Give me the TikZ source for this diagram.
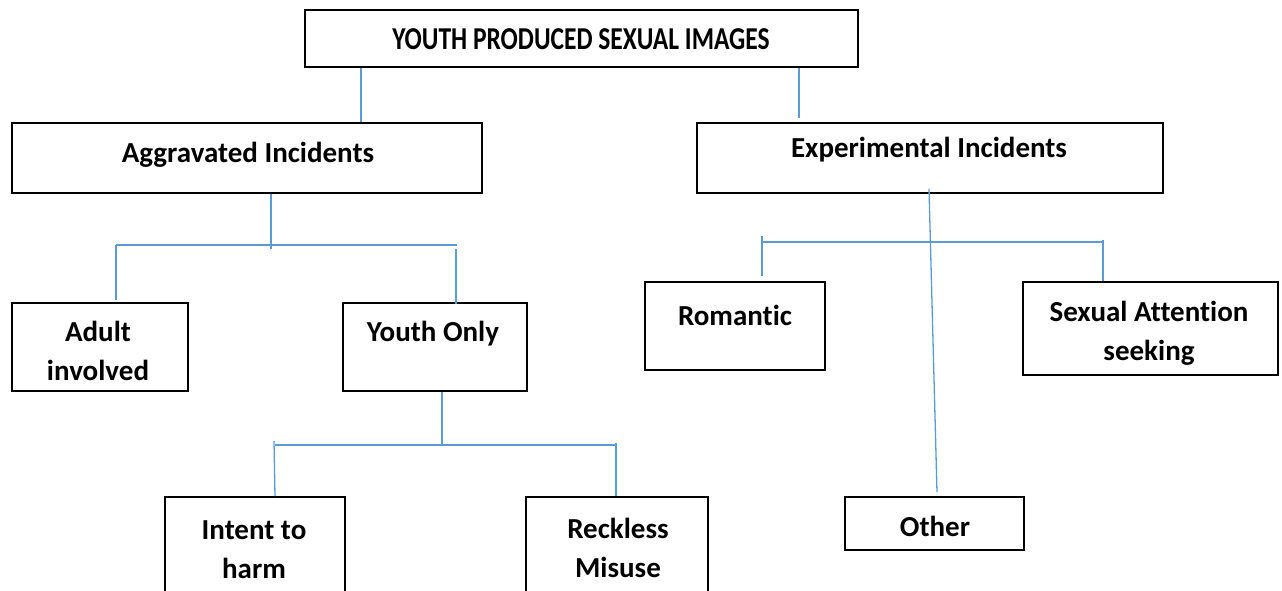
\documentclass[tikz,border=0pt]{standalone}
\usepackage{fontspec}
\usepackage{graphicx}
\setmainfont[Ligatures=NoCommon]{Carlito}
\usetikzlibrary{calc}
\definecolor{connblue}{HTML}{5B9BD5}
\tikzset{
  box/.style={draw=black, line width=1.6pt, rectangle, inner sep=0pt, fill=white},
  lbl/.style={font=\fontsize{29}{39}\selectfont\bfseries, align=center, inner sep=0pt, anchor=center},
  toplbl/.style={lbl, font=\fontsize{25.5}{39}\selectfont\bfseries},
  conn/.style={draw=connblue, line width=1.3pt}
}
\begin{document}
\begin{tikzpicture}[x=1pt,y=-1pt]
\useasboundingbox (0,0) rectangle (1282,590);
% boxes
\node[box, minimum width=553pt, minimum height=57pt] (top) at (581.5,38.5) {};
\node[box, minimum width=470pt, minimum height=70pt] (agg) at (247,158) {};
\node[box, minimum width=466pt, minimum height=70pt] (exp) at (930,158) {};
\node[box, minimum width=176pt, minimum height=88pt] (adult) at (100,347) {};
\node[box, minimum width=184pt, minimum height=88pt] (youth) at (435,347) {};
\node[box, minimum width=180pt, minimum height=88pt] (rom) at (735,326) {};
\node[box, minimum width=255pt, minimum height=93pt] (sex) at (1150.5,328.5) {};
\node[box, minimum width=180pt, minimum height=96pt] (intent) at (255,545) {};
\node[box, minimum width=182pt, minimum height=96pt] (reck) at (617,545) {};
\node[box, minimum width=179pt, minimum height=53pt] (other) at (934.5,523.5) {};
% labels
\node[toplbl] (topt) at (581,39) {\scalebox{1}[1.25]{YOUTH PRODUCED SEXUAL IMAGES}};
\node[lbl] (aggt) at (248,155) {Aggravated Incidents};
\node[lbl] (expt) at (929,150) {Experimental Incidents};
\node[lbl] (adultt) at (98,351) {Adult\\involved};
\node[lbl] (youtht) at (433,334) {Youth Only};
\node[lbl] (romt) at (735,315) {Romantic};
\node[lbl] (sext) at (1149,333) {Sexual Attention\\seeking};
\node[lbl] (intentt) at (254,550) {Intent to\\harm};
\node[lbl] (reckt) at (618,548) {Reckless\\Misuse};
\node[lbl] (othert) at (935,526) {Other};
% junction coordinates
\coordinate (x1) at (361,0);
\coordinate (x2) at (799,0);
\coordinate (ja) at (271,245);
\coordinate (jal) at (116,245);
\coordinate (jar) at (457,245);
\coordinate (jy) at (442,445);
\coordinate (jyl) at (275,445);
\coordinate (jyr) at (616,445);
\coordinate (jel) at (762,242);
\coordinate (jer) at (1103,242);
% connectors
\draw[conn] (top.south -| x1) -- (agg.north -| x1);
\draw[conn] (top.south -| x2) -- ($(exp.north -| x2)+(0,-4)$);
\draw[conn] (agg.south -| ja) -- ($(ja)+(0,4)$);
\draw[conn] (jal) -- (jar);
\draw[conn] (jal) -- ($(adult.north -| jal)+(0,-2)$);
\draw[conn] ($(jar)+(-1,4)$) -- ($(youth.north -| jar)+(-1,2)$);
\draw[conn] (youth.south -| jy) -- (jy);
\draw[conn] (jyl) -- (jyr);
\draw[conn] ($(jyl)+(-1,-4)$) -- (intent.north -| jyl);
\draw[conn] ($(jyr)+(0,-2)$) -- (reck.north -| jyr);
\draw[conn] ($(exp.south)+(-1,-5)$) -- ($(other.north)+(2.5,-4)$);
\draw[conn] (jel) -- (jer);
\draw[conn] ($(jel)+(0,-6)$) -- ($(rom.north -| jel)+(0,-5)$);
\draw[conn] ($(jer)+(0,-2)$) -- (sex.north -| jer);
\end{tikzpicture}
\end{document}
